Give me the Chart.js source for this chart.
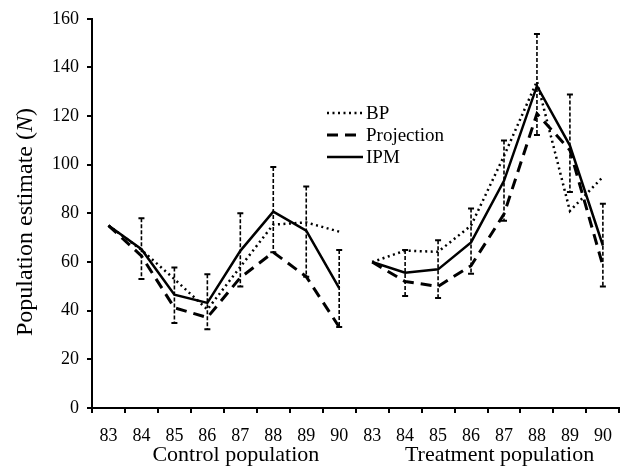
<!DOCTYPE html>
<html>
<head>
<meta charset="utf-8">
<script src="https://cdn.jsdelivr.net/npm/chart.js@4"></script>
<style>
  html, body { margin: 0; padding: 0; background: #fff; }
  #wrap { width: 624px; height: 468px; }
</style>
</head>
<body>
<div id="wrap"><canvas id="chart" width="624" height="468"></canvas></div>
<script>
// years for each population (control then treatment)
const years = ['83', '84', '85', '86', '87', '88', '89', '90', '83', '84', '85', '86', '87', '88', '89', '90'];
const groupLabels = ['Control population', 'Treatment population'];

const bp         = [75, 65, 53, 40.5, 58, 75.4, 76.3, 72.5, 60, 64.7, 64.2, 75, 103.6, 134.3, 81, 95];
const projection = [75, 62.5, 41.2, 37.2, 53.6, 64, 54, 33.3, 60, 52, 50, 58.5, 79.7, 121, 106, 58.5];
const ipm        = [75, 65.3, 46.6, 43.2, 64.6, 80.7, 72.9, 49.3, 60, 55.6, 57, 68.1, 93.4, 132.4, 107.9, 66.8];

// error bar ends
const errHigh = [null, 78, 57.8, 55, 80.1, 99.1, 91.1, 65, null, 65, 69, 82, 110, 153.8, 128.9, 84];
const errLow  = [null, 53, 34.9, 32.4, 50, 64, 54, 33.3, null, 46, 45.2, 55.2, 77, 112.2, 88.8, 50];

Chart.defaults.font.family = "'Liberation Serif', 'Times New Roman', serif";
Chart.defaults.color = '#000';

// no line between the two populations
const gap = {
  borderColor: ctx => ctx.p0DataIndex === 7 ? 'rgba(0,0,0,0)' : undefined
};

const errorBars = {
  id: 'errorBars',
  afterDatasetsDraw(chart) {
    const ctx = chart.ctx;
    const x = chart.scales.x, y = chart.scales.y;
    ctx.save();
    ctx.strokeStyle = '#000';
    for (let i = 0; i < errHigh.length; i++) {
      if (errHigh[i] == null) continue;
      const px = x.getPixelForValue(i);
      const top = y.getPixelForValue(errHigh[i]);
      const bot = y.getPixelForValue(errLow[i]);
      ctx.lineWidth = 1.6;
      ctx.setLineDash([4, 2]);
      ctx.beginPath();
      ctx.moveTo(px, top);
      ctx.lineTo(px, bot);
      ctx.stroke();
      ctx.setLineDash([]);
      ctx.lineWidth = 2;
      ctx.beginPath();
      ctx.moveTo(px - 3, top); ctx.lineTo(px + 3, top);
      ctx.moveTo(px - 3, bot); ctx.lineTo(px + 3, bot);
      ctx.stroke();
    }
    ctx.restore();
  }
};

const legendBox = {
  id: 'legendBox',
  afterDraw(chart) {
    const ctx = chart.ctx;
    ctx.save();
    ctx.font = "19px 'Liberation Serif'";
    ctx.fillStyle = '#000';
    ctx.textBaseline = 'middle';
    chart.data.datasets.forEach((ds, i) => {
      const ly = 113 + i * 22;
      ctx.strokeStyle = '#000';
      ctx.lineWidth = ds.borderWidth;
      ctx.setLineDash(ds.borderDash || []);
      ctx.beginPath();
      ctx.moveTo(327, ly);
      ctx.lineTo(363, ly);
      ctx.stroke();
      ctx.setLineDash([]);
      ctx.fillText(ds.label, 366, ly + 1);
    });
    ctx.restore();
  }
};

const yTitle = {
  id: 'yTitle',
  afterDraw(chart) {
    const ctx = chart.ctx;
    const parts = [
      ['Population estimate (', "24px 'Liberation Serif'"],
      ['N', "italic 24px 'Liberation Serif'"],
      [')', "24px 'Liberation Serif'"]
    ];
    ctx.save();
    let total = 0;
    parts.forEach(p => { ctx.font = p[1]; total += ctx.measureText(p[0]).width; });
    ctx.translate(26, 222);
    ctx.rotate(-Math.PI / 2);
    ctx.fillStyle = '#000';
    ctx.textBaseline = 'middle';
    let cx = -total / 2;
    parts.forEach(p => {
      ctx.font = p[1];
      ctx.fillText(p[0], cx, 0);
      cx += ctx.measureText(p[0]).width;
    });
    ctx.restore();
  }
};

new Chart(document.getElementById('chart').getContext('2d'), {
  type: 'line',
  data: {
    labels: years,
    datasets: [
      { label: 'BP', data: bp, borderColor: '#000', borderWidth: 2.5, borderDash: [2, 3.5], pointRadius: 0, tension: 0, segment: gap },
      { label: 'Projection', data: projection, borderColor: '#000', borderWidth: 3, borderDash: [11, 7], pointRadius: 0, tension: 0, segment: gap },
      { label: 'IPM', data: ipm, borderColor: '#000', borderWidth: 2.5, pointRadius: 0, tension: 0, segment: gap }
    ]
  },
  options: {
    responsive: false,
    animation: false,
    layout: { padding: { left: 0, top: 17, right: 4, bottom: 0 } },
    plugins: {
      legend: { display: false },
      tooltip: { enabled: false }
    },
    scales: {
      x: {
        type: 'category',
        position: 'bottom',
        weight: 0,
        offset: true,
        grid: { offset: true, drawOnChartArea: false, drawTicks: true, tickLength: 5, color: '#000', lineWidth: 2 },
        border: { color: '#000', width: 2 },
        ticks: { font: { size: 18 }, color: '#000', padding: 12, maxRotation: 0, autoSkip: false },
        afterFit: s => { s.height = 35; }
      },
      x2: {
        type: 'category',
        position: 'bottom',
        weight: 1,
        labels: groupLabels,
        offset: true,
        grid: { display: false, tickLength: 0 },
        border: { display: false },
        ticks: { font: { size: 22 }, color: '#000', padding: -1, labelOffset: 12, maxRotation: 0, autoSkip: false },
        afterFit: s => { s.height = 25; }
      },
      y: {
        min: 0,
        max: 160,
        ticks: { stepSize: 20, font: { size: 18 }, color: '#000', padding: 8 },
        grid: { drawOnChartArea: false, drawTicks: true, tickLength: 5, color: '#000', lineWidth: 2 },
        border: { color: '#000', width: 2 },
        afterFit: s => { s.width = 92; }
      }
    }
  },
  plugins: [errorBars, legendBox, yTitle]
});
</script>
</body>
</html>
